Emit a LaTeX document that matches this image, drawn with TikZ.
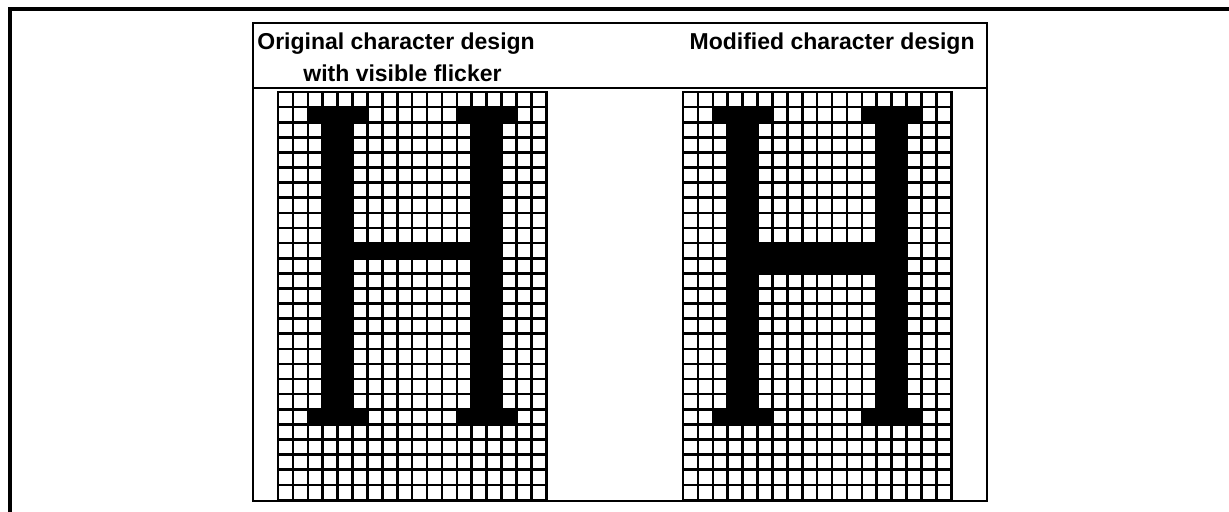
\documentclass[tikz,border=0pt]{standalone}
\usepackage{fontspec}
\setmainfont{Liberation Sans}
\usetikzlibrary{calc}
\colorlet{inkcol}{black}
\tikzstyle{frame}=[draw=inkcol,line width=1.6pt]
\tikzstyle{panel}=[draw=inkcol,line width=1.4pt]
\tikzstyle{gridline}=[draw=inkcol,line width=1.3pt,line cap=rect]
\tikzstyle{pixel}=[fill=inkcol]
\tikzstyle{caption}=[inner sep=0pt,font=\bfseries\fontsize{11.5}{13.5}\selectfont]

\begin{document}
\begin{tikzpicture}[x=0.5pt,y=-0.5pt]
  \def\W{1229}     % picture width
  \def\H{512}      % picture height
  \def\NX{18}      % pixels across
  \def\NY{27}      % pixels down
  \def\cw{7.45pt}  % pixel width
  \def\ch{7.555pt} % pixel height
  \useasboundingbox (0,0) rectangle (\W,\H);

  % outer frame, cut off at right and bottom
  \draw[frame] (\W,9) -- (10,9) -- (10,\H);

  % panel with the two headings
  \draw[panel] (253,23) rectangle (987,501);
  \draw[panel] (253,88) -- (987,88);
  \node[caption,anchor=base west] (orig1) at (257,50) {Original character design};
  \node[caption,anchor=base west] (orig2) at (303,82) {with visible flicker};
  \node[caption,anchor=base east] (modif) at (975,50) {Modified character design};

  % the two letter grids: x offset / rows in the cross bar
  \foreach \gx/\nbar in {278/1,683/2} {
    \begin{scope}[shift={(\gx,92)},x=\cw,y=-\ch]
      % serifs
      \fill[pixel] (2,1) rectangle (6,2);
      \fill[pixel] (12,1) rectangle (16,2);
      \fill[pixel] (2,21) rectangle (6,22);
      \fill[pixel] (12,21) rectangle (16,22);
      % stems
      \fill[pixel] (3,2) rectangle (5,21);
      \fill[pixel] (13,2) rectangle (15,21);
      % cross bar
      \fill[pixel] (5,10) rectangle (13,10+\nbar);
      % pixel grid
      \foreach \i in {0,...,\NX} \draw[gridline] (\i,0) -- (\i,\NY);
      \foreach \j in {0,...,\NY} \draw[gridline] (0,\j) -- (\NX,\j);
    \end{scope}
  }
\end{tikzpicture}
\end{document}
